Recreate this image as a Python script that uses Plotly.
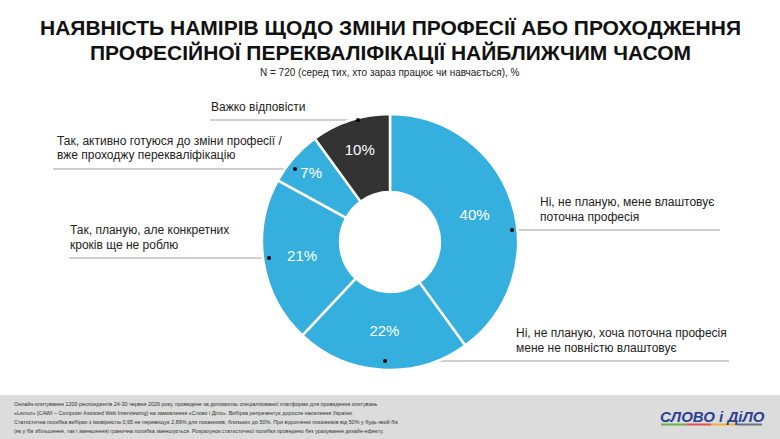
import plotly.graph_objects as go

W, H = 780, 439

categories = [
    "Ні, не планую, мене влаштовує поточна професія",
    "Ні, не планую, хоча поточна професія мене не повністю влаштовує",
    "Так, планую, але конкретних кроків ще не роблю",
    "Так, активно готуюся до зміни професії / вже проходжу перекваліфікацію",
    "Важко відповісти",
]
values = [40, 22, 21, 7, 10]
colors = ["#35AFDD", "#35AFDD", "#35AFDD", "#35AFDD", "#333333"]

label_lines = [
    ["Ні, не планую, мене влаштовує", "поточна професія"],
    ["Ні, не планую, хоча поточна професія", "мене не повністю влаштовує"],
    ["Так, планую, але конкретних", "кроків ще не роблю"],
    ["Так, активно готуюся до зміни професії /", "вже проходжу перекваліфікацію"],
    ["Важко відповісти"],
]

title_lines = [
    "НАЯВНІСТЬ НАМІРІВ ЩОДО ЗМІНИ ПРОФЕСІЇ АБО ПРОХОДЖЕННЯ",
    "ПРОФЕСІЙНОЇ ПЕРЕКВАЛІФІКАЦІЇ НАЙБЛИЖЧИМ ЧАСОМ",
]
subtitle = "N = 720 (серед тих, хто зараз працює чи навчається), %"
footer_lines = [
    "Онлайн-опитування 1200 респондентів 24-30 червня 2026 року, проведене за допомогою спеціалізованої платформи для проведення опитувань",
    "«Lemur» (CAWI – Computer Assisted Web Interviewing) на замовлення «Слово і Діло». Вибірка репрезентує доросле населення України.",
    "Статистична похибка вибірки з імовірністю 0,95 не перевищує 2,89% для показників, близьких до 50%. При відхиленні показників від 50% у будь-який бік",
    "(як у бік збільшення, так і зменшення) гранична похибка зменшується. Розрахунок статистичної похибки проведено без урахування дизайн-ефекту.",
]

def px(x):
    return x / W

def py(y):
    return 1 - y / H

# pie geometry (pixels)
cx, cy, r = 390, 242, 128

fig = go.Figure()
fig.add_trace(go.Pie(
    labels=categories,
    values=values,
    sort=False,
    direction="clockwise",
    rotation=0,
    hole=0.39,
    marker=dict(colors=colors, line=dict(color="white", width=2.5)),
    texttemplate="%{value}%",
    textposition="inside",
    insidetextorientation="horizontal",
    textfont=dict(family="Liberation Sans, Arial", size=15, color="white"),
    hoverinfo="label+percent",
    showlegend=False,
    domain=dict(x=[px(cx - r), px(cx + r)], y=[py(cy + r), py(cy - r)]),
))

shapes = []
annotations = []

# label leaders: (line y, line x0, line x1, dot x, text x)
leaders = [
    (230, 512, 720, 512, 538),
    (361, 385, 729, 385, 514),
    (258, 69, 269, 269, 68),
    (169, 53, 295, 295, 55),
    (120, 210, 358, 358, 209),
]
for lines, (ly, x0, x1, dx, tx) in zip(label_lines, leaders):
    shapes.append(dict(type="line", xref="paper", yref="paper",
                       x0=px(x0), x1=px(x1), y0=py(ly), y1=py(ly),
                       line=dict(color="#BFBFBF", width=1.5), layer="below"))
    shapes.append(dict(type="circle", xref="paper", yref="paper",
                       x0=px(dx - 2), x1=px(dx + 2), y0=py(ly - 2), y1=py(ly + 2),
                       fillcolor="black", line=dict(width=0)))
    n = len(lines)
    for i, t in enumerate(lines):
        yline = ly - 13.5 - 14.5 * (n - 1 - i)
        annotations.append(dict(text=t, xref="paper", yref="paper",
                                x=px(tx), y=py(yline), xanchor="left", yanchor="middle",
                                showarrow=False,
                                font=dict(family="Liberation Sans, Arial", size=12, color="#222222")))

# title
for i, t in enumerate(title_lines):
    annotations.append(dict(text="<b>" + t + "</b>", xref="paper", yref="paper",
                            x=0.5, y=py(27 + 25 * i), xanchor="center", yanchor="middle",
                            showarrow=False,
                            font=dict(family="Liberation Sans, Arial", size=21, color="#111111")))
annotations.append(dict(text=subtitle, xref="paper", yref="paper",
                        x=0.5, y=py(72), xanchor="center", yanchor="middle", showarrow=False,
                        font=dict(family="Liberation Sans, Arial", size=10, color="#222222")))

# footer
shapes.append(dict(type="rect", xref="paper", yref="paper", x0=0, x1=1, y0=0, y1=py(395),
                   fillcolor="#DCDCDC", line=dict(width=0), layer="below"))
for i, t in enumerate(footer_lines):
    annotations.append(dict(text=t, xref="paper", yref="paper",
                            x=px(12), y=py(404 + 9 * i), xanchor="left", yanchor="middle",
                            showarrow=False,
                            font=dict(family="Liberation Sans, Arial", size=5.4, color="#333333")))

# logo
annotations.append(dict(text="<b><i>СЛОВО і ДіЛО</i></b>", xref="paper", yref="paper",
                        x=px(712), y=py(416), xanchor="center", yanchor="middle", showarrow=False,
                        font=dict(family="Liberation Sans, Arial", size=15, color="#2B3F94")))
stripe_cols = ["#6AB04C", "#E0534A", "#F2B233", "#6B7080"]
for i, c in enumerate(stripe_cols):
    shapes.append(dict(type="rect", xref="paper", yref="paper",
                       x0=px(661 + 25.25 * i), x1=px(661 + 25.25 * (i + 1)),
                       y0=py(425.5), y1=py(423.5), fillcolor=c, line=dict(width=0)))

fig.update_layout(
    width=W, height=H,
    margin=dict(l=0, r=0, t=0, b=0),
    paper_bgcolor="white", plot_bgcolor="white",
    shapes=shapes, annotations=annotations,
)

fig.write_html("out.html")
